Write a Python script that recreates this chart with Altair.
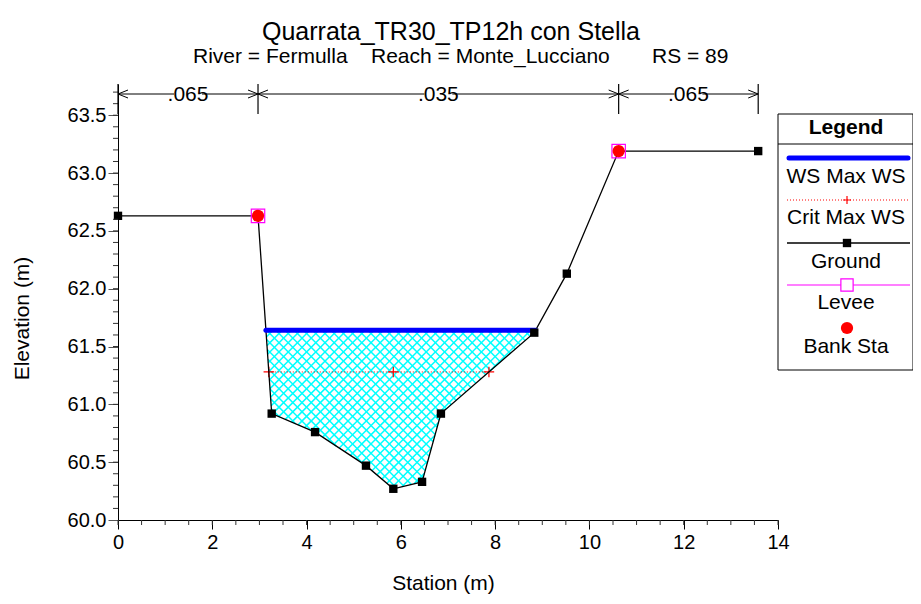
import altair as alt
import pandas as pd
import numpy as np

# ---------------- data ----------------
station = [0.0, 2.97, 3.26, 4.18, 5.26, 5.84, 6.45, 6.85, 8.83, 9.52, 10.62, 13.58]
elevation = [62.63, 62.63, 60.92, 60.76, 60.47, 60.27, 60.33, 60.92, 61.62, 62.13, 63.19, 63.19]
bank_station = [2.97, 10.62]
bank_elevation = [62.63, 63.19]
ws_max = 61.64
crit_max = 61.28
n_bounds = [0.0, 2.97, 10.62, 13.58]
n_values = [".065", ".035", ".065"]
x_major = [0, 2, 4, 6, 8, 10, 12, 14]
y_major = [60.0, 60.5, 61.0, 61.5, 62.0, 62.5, 63.0, 63.5]
title_text = "Quarrata_TR30_TP12h con Stella"
subtitle_parts = ["River = Fermulla", "Reach = Monte_Lucciano", "RS = 89"]
legend_labels = ["WS Max WS", "Crit Max WS", "Ground", "Levee", "Bank Sta"]

# ---------------- layout ----------------
W, H = 660, 436
XDOM = [0, 14]
YDOM = [60.0, 63.77]
FONT = "Liberation Sans"

xs = alt.Scale(domain=XDOM, nice=False, zero=False)
ys = alt.Scale(domain=YDOM, nice=False, zero=False)

x_axis = alt.Axis(values=x_major, format="d", tickSize=9, tickColor="#000000", tickWidth=1,
                  domainColor="#000000", domainWidth=1, labelFont=FONT, labelFontSize=20,
                  labelColor="#000000", labelPadding=3, labelFlush=False, labelOverlap=False,
                  grid=False,
                  title="Station (m)", titleFont=FONT, titleFontSize=21,
                  titleFontWeight="normal", titleColor="#000000",
                  titleX=325, titleY=63, titleBaseline="middle", titleAlign="center")
y_axis = alt.Axis(values=y_major, format=".1f", tickSize=10, tickColor="#555555", tickWidth=1,
                  domainColor="#000000", domainWidth=1, labelFont=FONT, labelFontSize=20,
                  labelColor="#000000", labelPadding=2, labelFlush=False, labelOverlap=False,
                  grid=False,
                  title="Elevation (m)", titleFont=FONT, titleFontSize=21,
                  titleFontWeight="normal", titleColor="#000000", titleAngle=270,
                  titleX=-96, titleY=234, titleBaseline="middle", titleAlign="center")


def X(field):
    return alt.X(field, type="quantitative", scale=xs, axis=x_axis)


def Y(field):
    return alt.Y(field, type="quantitative", scale=ys, axis=y_axis)


st = np.array(station)
el = np.array(elevation)
lb = station.index(bank_station[0])
rb = station.index(bank_station[1])


def crossings(h):
    """left and right points where the channel ground crosses elevation h"""
    left = right = None
    for i in range(lb, rb):
        a, b = el[i], el[i + 1]
        if left is None and a > h >= b:
            left = st[i] + (a - h) / (a - b) * (st[i + 1] - st[i])
        if a <= h < b:
            right = st[i] + (h - a) / (b - a) * (st[i + 1] - st[i])
    return left, right


ws_l, ws_r = crossings(ws_max)
cr_l, cr_r = crossings(crit_max)
thalweg = st[lb + int(np.argmin(el[lb:rb + 1]))]

# water polygon
poly = [(ws_l, ws_max)]
for s, e in zip(station, elevation):
    if ws_l < s < ws_r:
        poly.append((s, e))
poly.append((ws_r, ws_max))

# cross-hatch lines computed inside the water polygon (in pixel-proportional space)
kx = W / (XDOM[1] - XDOM[0])
ky = H / (YDOM[1] - YDOM[0])
P = [(x * kx, y * ky) for x, y in poly]
spacing = 9.2
hatch_rows = []
for sign in (1, -1):
    vals = [p[0] + sign * p[1] for p in P]
    c = np.floor(min(vals) / spacing) * spacing
    while c < max(vals):
        pts = []
        n = len(P)
        for i in range(n):
            p, q = P[i], P[(i + 1) % n]
            fp = p[0] + sign * p[1] - c
            fq = q[0] + sign * q[1] - c
            if (fp < 0) != (fq < 0):
                t = fp / (fp - fq)
                pts.append((p[0] + t * (q[0] - p[0]), p[1] + t * (q[1] - p[1])))
        pts.sort()
        for a, b in zip(pts[0::2], pts[1::2]):
            hatch_rows.append({"x": a[0] / kx, "y": a[1] / ky, "x2": b[0] / kx, "y2": b[1] / ky})
        c += spacing
hatch_df = pd.DataFrame(hatch_rows)

ground_df = pd.DataFrame({"x": station, "y": elevation})
bank_df = pd.DataFrame({"x": bank_station, "y": bank_elevation})
ws_df = pd.DataFrame({"x": [ws_l, ws_r], "y": [ws_max, ws_max]})
crit_df = pd.DataFrame({"x": [cr_l, thalweg, cr_r], "y": [crit_max] * 3})

# ---------------- plot layers ----------------
hatch = alt.Chart(hatch_df).mark_rule(color="#00FFFF", strokeWidth=1.5).encode(
    x=X("x"), y=Y("y"), x2="x2", y2="y2")

crit_line = alt.Chart(crit_df).mark_line(color="#FF0000", strokeWidth=1, strokeDash=[1, 2]).encode(
    x=X("x"), y=Y("y"))
PLUS = "M-1,0H1M0,-1V1"
crit_pts = alt.Chart(crit_df).mark_point(shape=PLUS, size=110, color="#FF0000", filled=False,
                                         strokeWidth=1.2, opacity=1).encode(x=X("x"), y=Y("y"))

ground_line = alt.Chart(ground_df).mark_line(color="#000000", strokeWidth=1.3).encode(
    x=X("x"), y=Y("y"), order="x:Q")

ws_line = alt.Chart(ws_df).mark_line(color="#0000FF", strokeWidth=5, strokeCap="round").encode(
    x=X("x"), y=Y("y"))

ground_pts = alt.Chart(ground_df).mark_point(shape="square", size=70, filled=True, color="#000000",
                                             opacity=1).encode(x=X("x"), y=Y("y"))

levee = alt.Chart(bank_df).mark_point(shape="square", size=180, filled=False, color="#FF00FF",
                                      strokeWidth=1.2, opacity=1).encode(x=X("x"), y=Y("y"))
bank = alt.Chart(bank_df).mark_point(shape="circle", size=150, filled=True, color="#FF0000",
                                     opacity=1).encode(x=X("x"), y=Y("y"))

# minor ticks
y_minor = pd.DataFrame({"v": [round(60.1 + 0.1 * i, 1) for i in range(37)]})
x_minor = pd.DataFrame({"v": [0.5 * i for i in range(29)]})
y_minor_ticks = alt.Chart(y_minor).mark_rule(color="#333333", strokeWidth=1).encode(
    y=Y("v"), x=alt.value(-5), x2=alt.value(0))
x_minor_ticks = alt.Chart(x_minor).mark_rule(color="#333333", strokeWidth=1).encode(
    x=X("v"), y=alt.value(H), y2=alt.value(H + 5))

# Manning's n brackets
nb_df = pd.DataFrame({"x": n_bounds})
seg_df = pd.DataFrame({"x": n_bounds[:-1], "x2": n_bounds[1:], "n": n_values,
                       "mid": [(a + b) / 2 for a, b in zip(n_bounds[:-1], n_bounds[1:])]})
n_vert = alt.Chart(nb_df).mark_rule(color="#000000", strokeWidth=1.2).encode(
    x=X("x"), y=alt.value(0), y2=alt.value(30))
n_horiz = alt.Chart(seg_df).mark_rule(color="#000000", strokeWidth=1).encode(
    x=X("x"), x2="x2", y=alt.value(10))
ARROW_L = "M0,0L2,-0.8M0,0L2,0.8"
ARROW_R = "M0,0L-2,-0.8M0,0L-2,0.8"
n_arrow_l = alt.Chart(seg_df).mark_point(shape=ARROW_L, size=100, filled=False, color="#000000",
                                         strokeWidth=1, opacity=1).encode(x=X("x"), y=alt.value(10))
n_arrow_r = alt.Chart(seg_df).mark_point(shape=ARROW_R, size=100, filled=False, color="#000000",
                                         strokeWidth=1, opacity=1).encode(x=X("x2"), y=alt.value(10))
BOX = "M-2.8,-1.2H2.8V1.2H-2.8Z"
n_box = alt.Chart(seg_df).mark_point(shape=BOX, size=100, filled=True, color="#FFFFFF",
                                     opacity=1).encode(x=X("mid"), y=alt.value(10))
n_text = alt.Chart(seg_df).mark_text(font=FONT, fontSize=21, color="#000000", baseline="middle",
                                     align="center").encode(x=X("mid"), y=alt.value(11), text="n:N")

# titles
title = alt.Chart(pd.DataFrame({"t": [title_text]})).mark_text(
    font=FONT, fontSize=25, color="#000000", align="center", baseline="alphabetic").encode(
    x=alt.value(333), y=alt.value(-44), text="t:N")
sub_df = pd.DataFrame({"t": subtitle_parts, "px": [75, 253, 534]})
subtitle = alt.Chart(sub_df).mark_text(
    font=FONT, fontSize=21, color="#000000", align="left", baseline="alphabetic").encode(
    x=alt.X("px:Q", scale=None, axis=None), y=alt.value(-21), text="t:N")

# ---------------- legend (drawn in pixels to the right of the plot) ----------------
LX0, LX1, LXC = 660, 795, 728
one = pd.DataFrame({"a": [0]})
leg_box = alt.Chart(one).mark_rect(fill="#FFFFFF", stroke="#000000", strokeWidth=1).encode(
    x=alt.value(LX0), x2=alt.value(LX1), y=alt.value(30), y2=alt.value(286))
leg_sep = alt.Chart(one).mark_rule(color="#000000", strokeWidth=1).encode(
    x=alt.value(LX0), x2=alt.value(LX1), y=alt.value(60))
leg_title = alt.Chart(pd.DataFrame({"t": ["Legend"]})).mark_text(
    font=FONT, fontSize=21, fontWeight="bold", color="#000000", baseline="middle").encode(
    x=alt.value(LXC), y=alt.value(44), text="t:N")
leg_text = alt.Chart(pd.DataFrame({"t": legend_labels, "py": [93, 134, 178, 219, 263]})).mark_text(
    font=FONT, fontSize=21, color="#000000", baseline="middle").encode(
    x=alt.value(LXC), y=alt.Y("py:Q", scale=None, axis=None), text="t:N")
leg_ws = alt.Chart(one).mark_rule(color="#0000FF", strokeWidth=5, strokeCap="round").encode(
    x=alt.value(671), x2=alt.value(790), y=alt.value(74))
leg_crit = alt.Chart(one).mark_rule(color="#FF0000", strokeWidth=1, strokeDash=[1, 2]).encode(
    x=alt.value(669), x2=alt.value(792), y=alt.value(116))
leg_crit_pt = alt.Chart(one).mark_point(shape=PLUS, size=64, filled=False, color="#FF0000",
                                        strokeWidth=1.2, opacity=1).encode(
    x=alt.value(LXC + 1), y=alt.value(116))
leg_gr = alt.Chart(one).mark_rule(color="#000000", strokeWidth=1.3).encode(
    x=alt.value(669), x2=alt.value(792), y=alt.value(159))
leg_gr_pt = alt.Chart(one).mark_point(shape="square", size=70, filled=True, color="#000000",
                                      opacity=1).encode(x=alt.value(LXC + 1), y=alt.value(159))
leg_lv = alt.Chart(one).mark_rule(color="#FF00FF", strokeWidth=1.2).encode(
    x=alt.value(669), x2=alt.value(792), y=alt.value(201))
leg_lv_pt = alt.Chart(one).mark_point(shape="square", size=150, filled=True, fill="#FFFFFF",
                                      stroke="#FF00FF", strokeWidth=1.2, opacity=1).encode(
    x=alt.value(LXC + 1), y=alt.value(201))
leg_bk = alt.Chart(one).mark_point(shape="circle", size=150, filled=True, color="#FF0000",
                                   opacity=1).encode(x=alt.value(LXC + 1), y=alt.value(244))

chart = alt.layer(
    hatch, crit_line, crit_pts, ground_line, ws_line, ground_pts, levee, bank,
    y_minor_ticks, x_minor_ticks,
    n_vert, n_horiz, n_arrow_l, n_arrow_r, n_box, n_text,
    title, subtitle,
    leg_box, leg_sep, leg_title, leg_text, leg_ws, leg_crit, leg_crit_pt, leg_gr, leg_gr_pt,
    leg_lv, leg_lv_pt, leg_bk,
).properties(
    width=W, height=H,
    autosize=alt.AutoSizeParams(type="none"),
    padding={"left": 110, "top": 76, "right": 135, "bottom": 76},
    background="#FFFFFF",
).configure_view(stroke=None)

chart.save("out.html", embed_options={"renderer": "svg", "actions": False})
